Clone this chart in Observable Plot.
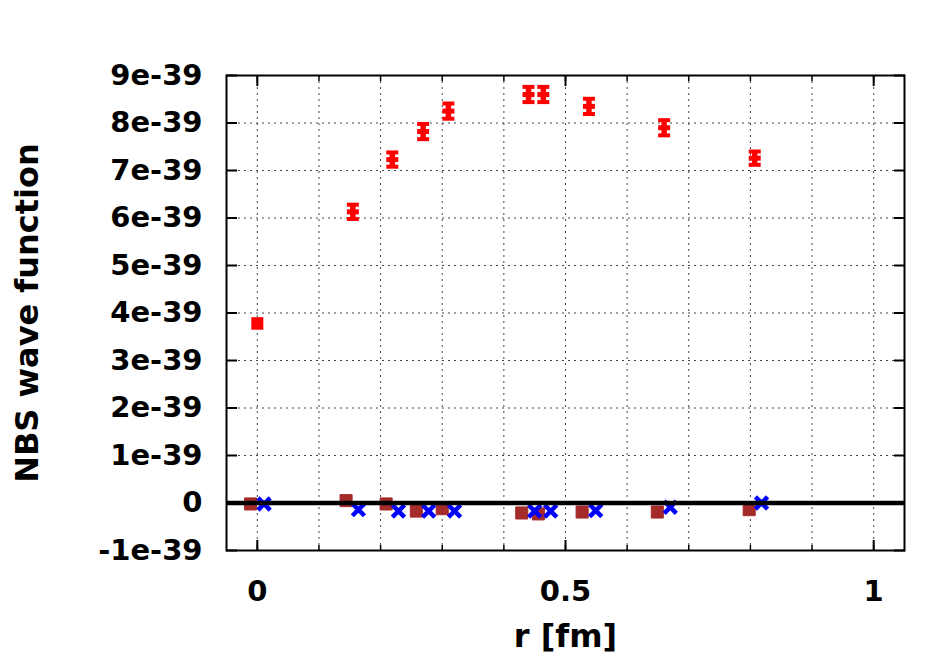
<!DOCTYPE html>
<html><head><meta charset="utf-8">
<script src="https://cdn.jsdelivr.net/npm/d3@7"></script>
<script src="https://cdn.jsdelivr.net/npm/@observablehq/plot@0.6"></script>
<style>body{margin:0;background:#fff;} #chart svg{display:block;}</style>
</head><body><div id="chart"></div>
<script>
// values of the wave function, in units of 1e-39
const rRed   = [0.000, 0.155, 0.219, 0.269, 0.310, 0.440, 0.464, 0.538, 0.660, 0.807];
const psiRed = [3.78, 6.13, 7.23, 7.82, 8.25, 8.60, 8.60, 8.35, 7.90, 7.26];
const errRed = [0.09, 0.15, 0.15, 0.16, 0.16, 0.16, 0.16, 0.16, 0.16, 0.14];

const rBrown   = [-0.011, 0.144, 0.209, 0.258, 0.300, 0.429, 0.456, 0.527, 0.649, 0.798];
const psiBrown = [-0.02, 0.05, -0.02, -0.17, -0.12, -0.21, -0.23, -0.19, -0.19, -0.14];

const rBlue   = [0.011, 0.164, 0.229, 0.278, 0.320, 0.450, 0.476, 0.549, 0.670, 0.818];
const psiBlue = [-0.02, -0.14, -0.17, -0.17, -0.17, -0.17, -0.17, -0.16, -0.09, 0.00];

const xMajorTicks = [0, 0.5, 1];
const xMinorTicks = [0, 0.1, 0.2, 0.3, 0.4, 0.5, 0.6, 0.7, 0.8, 0.9, 1.0];
const yTicks = [-1, 0, 1, 2, 3, 4, 5, 6, 7, 8, 9];
const yLabel = "NBS wave function";
const xLabel = "r [fm]";

const red = rRed.map((r, i) => ({r, psi: psiRed[i], err: errRed[i]}));
const brown = rBrown.map((r, i) => ({r, psi: psiBrown[i]}));
const blue = rBlue.map((r, i) => ({r, psi: psiBlue[i]}));

const hline = {draw(ctx, size) { const h = Math.sqrt(size / Math.PI); ctx.moveTo(-h, 0); ctx.lineTo(h, 0); }};
const font = "DejaVu Sans";

const chart = Plot.plot({
  width: 949, height: 664,
  marginLeft: 226, marginRight: 45, marginTop: 75, marginBottom: 114,
  style: {fontFamily: font, fontWeight: "bold", background: "#fff"},
  x: {domain: [-0.05, 1.05]},
  y: {domain: [-1, 9]},
  marks: [
    Plot.gridX(xMinorTicks, {stroke: "#444", strokeOpacity: 1, strokeWidth: 1, strokeDasharray: "2,4"}),
    Plot.gridY(yTicks, {stroke: "#444", strokeOpacity: 1, strokeWidth: 1, strokeDasharray: "2,4"}),
    // tick marks (inward)
    Plot.axisX(xMinorTicks, {anchor: "bottom", tickSize: -5, strokeWidth: 1.5, text: null, label: null}),
    Plot.axisX(xMajorTicks, {anchor: "bottom", tickSize: -10, strokeWidth: 2, text: null, label: null}),
    Plot.axisX(xMinorTicks, {anchor: "top", tickSize: -5, strokeWidth: 1.5, text: null, label: null}),
    Plot.axisX(xMajorTicks, {anchor: "top", tickSize: -10, strokeWidth: 2, text: null, label: null}),
    Plot.axisY(yTicks, {anchor: "left", tickSize: -11, strokeWidth: 2, text: null, label: null}),
    Plot.axisY(yTicks, {anchor: "right", tickSize: -11, strokeWidth: 2, text: null, label: null}),
    // tick labels
    Plot.axisX(xMajorTicks, {anchor: "bottom", tickSize: 0, tickPadding: 30, fontSize: 29, fontWeight: "bold", tickFormat: d => String(d), label: null}),
    Plot.axisY(yTicks, {anchor: "left", tickSize: 0, tickPadding: 24, fontSize: 29, fontWeight: "bold", tickFormat: d => d === 0 ? "0" : `${d}e-39`, label: null}),
    // data
    Plot.ruleX(red, {x: "r", y1: d => d.psi - d.err, y2: d => d.psi + d.err, stroke: "#ff0000", strokeWidth: 5.5}),
    Plot.dot(red, {x: "r", y: d => d.psi - d.err, symbol: hline, r: 6, stroke: "#ff0000", fill: "none", strokeWidth: 4}),
    Plot.dot(red, {x: "r", y: d => d.psi + d.err, symbol: hline, r: 6, stroke: "#ff0000", fill: "none", strokeWidth: 4}),
    Plot.dot(red, {x: "r", y: "psi", symbol: hline, r: 6, stroke: "#ff0000", fill: "none", strokeWidth: 5}),
    Plot.dot(brown, {x: "r", y: "psi", symbol: "square", r: 6.8, fill: "#a52a2a", stroke: "#a52a2a", strokeWidth: 1}),
    Plot.dot(blue, {x: "r", y: "psi", symbol: "times", r: 5.6, stroke: "#0000ff", strokeWidth: 4.5}),
    Plot.ruleY([0], {stroke: "#000", strokeWidth: 4.5}),
    Plot.frame({stroke: "#000", strokeWidth: 2}),
    // axis titles
    Plot.text([yLabel], {frameAnchor: "left", textAnchor: "middle", dx: -199, rotate: -90, fontSize: 32, fontWeight: "bold", fill: "#000"}),
    Plot.text([xLabel], {frameAnchor: "bottom", textAnchor: "middle", dy: 96, fontSize: 32, fontWeight: "bold", fill: "#000"})
  ]
});
document.getElementById("chart").appendChild(chart);
</script>
</body></html>
